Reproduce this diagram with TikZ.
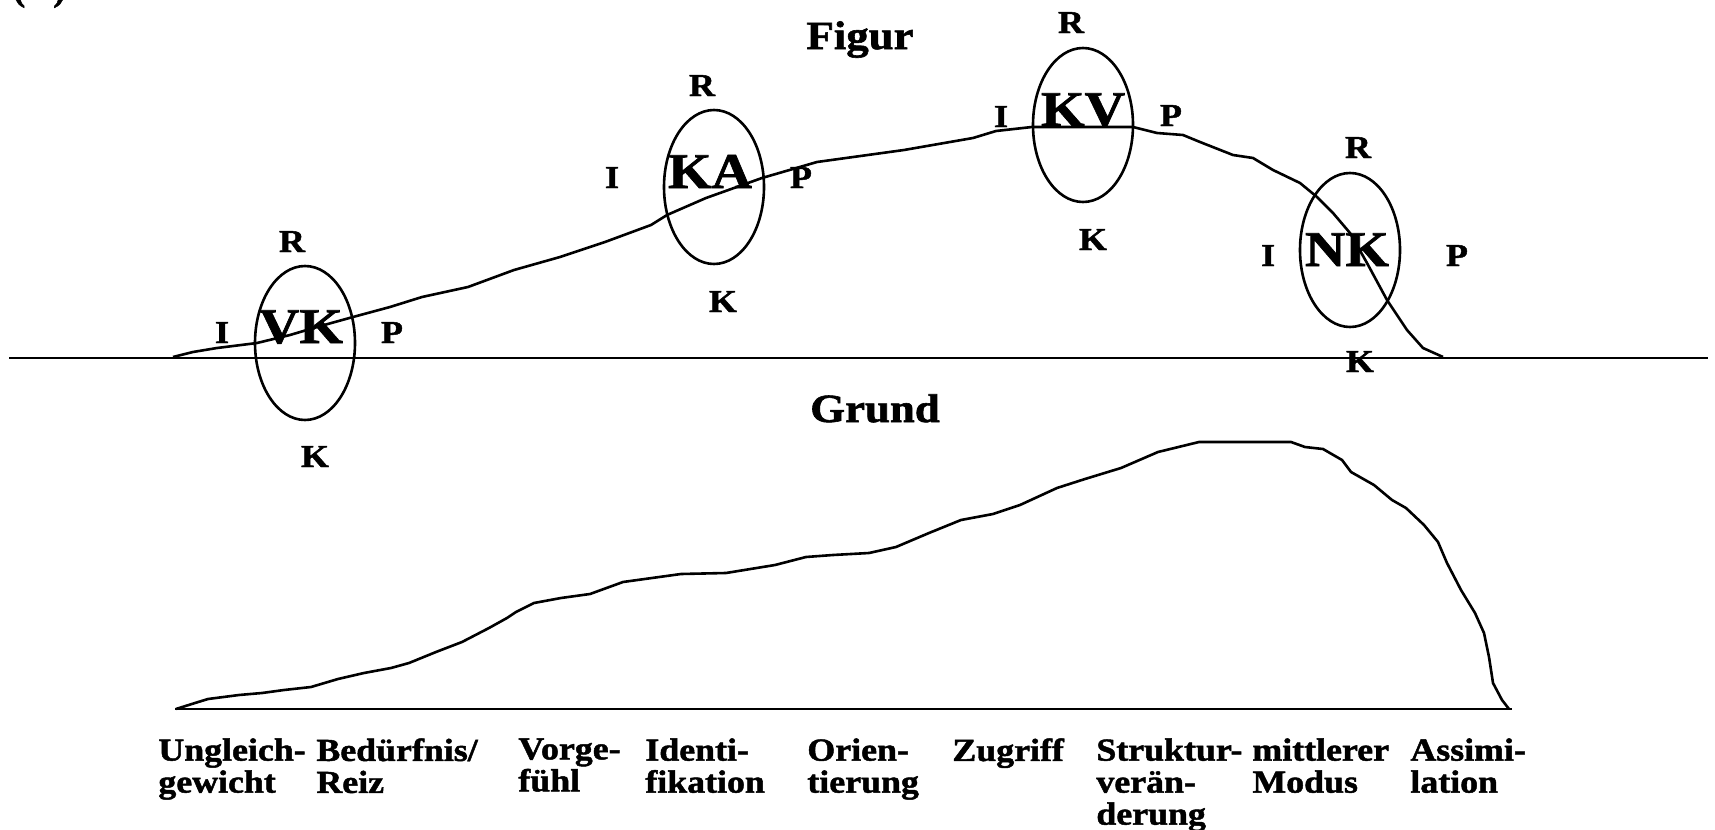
\documentclass[tikz,border=0pt]{standalone}
\usepackage{fontspec}
\setmainfont{Liberation Serif}[FakeStretch=1.12,BoldFeatures={RawFeature={embolden=1.5}}]
\usetikzlibrary{shapes.geometric}
\tikzset{
  lbl/.style={font=\bfseries\fontsize{16}{16}\selectfont, inner sep=0pt, anchor=base},
  big/.style={font=\bfseries\fontsize{25}{28}\selectfont, inner sep=0pt, anchor=base},
  head/.style={font=\bfseries\fontsize{20}{22}\selectfont, inner sep=0pt, anchor=base},
  col/.style={font=\bfseries\fontsize{16}{16}\selectfont, align=left, anchor=north west, inner sep=0pt},
  ring/.style={draw, ellipse, line width=1.3pt, minimum width=50pt, minimum height=77pt, inner sep=0pt},
  curve/.style={line width=1.3pt, line join=round},
  axis/.style={line width=1.3pt}
}
\begin{document}
\begin{tikzpicture}[x=0.5pt,y=-0.5pt]
\useasboundingbox (0,0) rectangle (1715,830);
% cut-off label at top left
\node[lbl, anchor=base west] (cut) at (13,1) {(\hspace{14pt})};
% base lines
\coordinate (tl) at (9,358);
\coordinate (tr) at (1708,358);
\draw[axis] (tl) -- (tr);
\coordinate (bl) at (175,709);
\coordinate (br) at (1512,709);
\draw[axis] (bl) -- (br);
% upper curve
\draw[curve] (173,357) -- (193,352) -- (217,348) -- (257,343) -- (290,335) -- (317,327)
 -- (353,317) -- (390,307) -- (422,297) -- (468,287) -- (514,270) -- (560,257)
 -- (605,242) -- (651,225) -- (667,215) -- (706,198) -- (762,178) -- (817,162)
 -- (904,150) -- (973,138) -- (996,131) -- (1032,127) -- (1133,127)
 -- (1157,133) -- (1183,135) -- (1200,142) -- (1233,155) -- (1253,158) -- (1273,170)
 -- (1300,183) -- (1317,197) -- (1333,213) -- (1350,233) -- (1367,263) -- (1387,300)
 -- (1407,330) -- (1423,348) -- (1443,357);
% lower curve
\draw[curve] (176,709) -- (195,703) -- (208,699) -- (239,695) -- (262,693) -- (284,690)
 -- (311,687) -- (338,679) -- (364,673) -- (391,668) -- (409,663) -- (436,652)
 -- (462,642) -- (489,628) -- (507,618) -- (516,612) -- (534,603) -- (561,598)
 -- (590,594) -- (623,582) -- (681,574) -- (726,573) -- (775,565) -- (806,557)
 -- (833,555) -- (869,553) -- (896,547) -- (929,533) -- (961,520) -- (993,514)
 -- (1020,505) -- (1057,488) -- (1085,479) -- (1121,468) -- (1158,452) -- (1199,442)
 -- (1291,442) -- (1305,447) -- (1323,449) -- (1342,460) -- (1351,472) -- (1374,485)
 -- (1392,500) -- (1406,508) -- (1424,525) -- (1438,542) -- (1447,563) -- (1461,590)
 -- (1475,613) -- (1484,633) -- (1489,657) -- (1493,683) -- (1502,700) -- (1509,709);
% headings
\node[head] (figur) at (860,49) {Figur};
\node[head] (grund) at (875,422) {Grund};
% VK
\node[ring] (vk) at (305,343) {};
\node[big] (vkt) at (301,343) {VK};
\node[lbl] (vkr) at (292,252) {R};
\node[lbl] (vki) at (222,343) {I};
\node[lbl] (vkp) at (392,343) {P};
\node[lbl] (vkk) at (315,467) {K};
% KA
\node[ring] (ka) at (714,187) {};
\node[big] (kat) at (710,188) {KA};
\node[lbl] (kar) at (702,96) {R};
\node[lbl] (kai) at (612,188) {I};
\node[lbl] (kap) at (801,188) {P};
\node[lbl] (kak) at (723,312) {K};
% KV
\node[ring] (kv) at (1083,125) {};
\node[big] (kvt) at (1083,126) {KV};
\node[lbl] (kvr) at (1071,33) {R};
\node[lbl] (kvi) at (1001,127) {I};
\node[lbl] (kvp) at (1171,126) {P};
\node[lbl] (kvk) at (1093,250) {K};
% NK
\node[ring] (nk) at (1350,250) {};
\node[big] (nkt) at (1347,266) {NK};
\node[lbl] (nkr) at (1358,158) {R};
\node[lbl] (nki) at (1268,266) {I};
\node[lbl] (nkp) at (1457,266) {P};
\node[lbl] (nkk) at (1360,372) {K};
% phase labels
\node[col] (c1) at (158,738) {Ungleich-\\gewicht};
\node[col] (c2) at (316,738) {Bedürfnis/\\Reiz};
\node[col] (c3) at (518,738) {Vorge-\\fühl};
\node[col] (c4) at (645,738) {Identi-\\fikation};
\node[col] (c5) at (807,738) {Orien-\\tierung};
\node[col] (c6) at (952,738) {Zugriff};
\node[col] (c7) at (1096,738) {Struktur-\\verän-\\derung};
\node[col] (c8) at (1252,738) {mittlerer\\Modus};
\node[col] (c9) at (1410,738) {Assimi-\\lation};
\end{tikzpicture}
\end{document}
